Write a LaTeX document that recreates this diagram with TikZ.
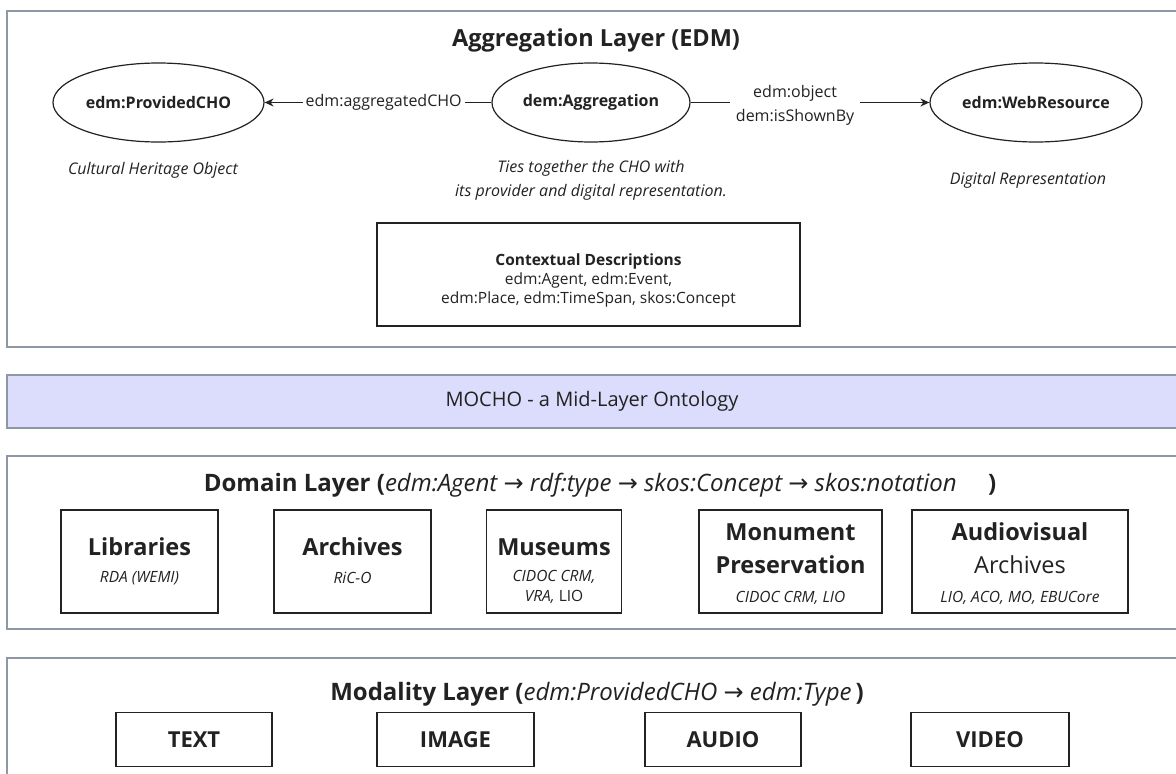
\documentclass[tikz,border=0pt]{standalone}
\usepackage{fontspec}
\setmainfont{Open Sans}
\newfontfamily\arrowfont{DejaVu Sans}
\usetikzlibrary{shapes.geometric,arrows.meta}
\definecolor{framecol}{HTML}{8E98A4}
\definecolor{lav}{HTML}{DCDCFC}
\definecolor{ink}{HTML}{222222}
\newcommand{\fs}[2]{\fontsize{#1}{#2}\selectfont}
\newcommand{\ar}{{\arrowfont\char"2192}}
\tikzset{
  frame/.style={draw=framecol, line width=1.6pt},
  ell/.style={ellipse, draw=ink, line width=1.2pt, font=\fs{16}{19}\bfseries, text=ink, inner sep=0pt, minimum height=79pt},
  elab/.style={fill=white, font=\fs{16}{24}, text=ink, align=center, inner sep=3pt},
  desc/.style={font=\fs{16}{24}\itshape, text=ink, align=center},
  ttl/.style={font=\fs{24}{28}, text=ink},
  box/.style={draw=ink, line width=1.2pt, inner sep=0pt},
  head/.style={font=\fs{23.5}{28}\bfseries, text=ink},
  headr/.style={font=\fs{23.5}{28}, text=ink},
  sub/.style={font=\fs{15.5}{18}\itshape, text=ink},
  modlab/.style={font=\fs{22}{26}\bfseries, text=ink},
  conn/.style={draw=ink, line width=1.2pt},
  tip/.style={-{Stealth[length=9pt,width=8pt]}}
}
\begin{document}
\begin{tikzpicture}[x=1pt,y=-1pt]
\useasboundingbox (0,0) rectangle (1176,774);
\fill[white] (0,0) rectangle (1176,774);
\begin{scope}
\clip (0,0) rectangle (1176,774);
% layer frames
\draw[frame] (7,11) rectangle (1190,347);
\draw[frame, fill=lav] (7,375) rectangle (1190,428);
\draw[frame] (7,456) rectangle (1190,629);
\draw[frame] (7,658) rectangle (1190,800);
\end{scope}

% Aggregation layer
\node[ttl, font=\fs{23.5}{28}\bfseries] (aggtitle) at (596,40) {Aggregation Layer (EDM)};
\node[ell, minimum width=211pt] (cho) at (158.5,102.5) {edm:ProvidedCHO};
\node[ell, minimum width=198pt] (agg) at (591,102.5) {dem:Aggregation};
\node[ell, minimum width=212pt] (web) at (1036,102.5) {edm:WebResource};
\draw[conn, tip] (agg.west) -- node[elab, pos=0.475] (lab1) {edm:aggregatedCHO} (cho.east);
\draw[conn, tip] (agg.east) -- node[elab, pos=0.4375, inner sep=6pt, yshift=-2.5pt] (lab2) {edm:object\\dem:isShownBy} (web.west);

\node[desc] (chodesc) at (153,170) {Cultural Heritage Object};
\node[desc] (aggdesc) at (591,180) {Ties together the CHO with\\its provider and digital representation.};
\node[desc] (webdesc) at (1028,180) {Digital Representation};

\node[box, minimum width=423pt, minimum height=103pt] (ctx) at (588.5,274.5) {};
\node[align=center, text=ink, font=\fs{15.5}{19}] (ctxtext) at (588.5,280)
  {\textbf{Contextual Descriptions}\\edm:Agent, edm:Event,\\edm:Place, edm:TimeSpan, skos:Concept};

% MOCHO
\node[ttl, font=\fs{20}{24}] (mocho) at (592,401.5) {MOCHO - a Mid-Layer Ontology};

% Domain layer
\node[ttl] (domtitle) at (600,485) {\textbf{Domain Layer (}\textit{edm:Agent \ar{} rdf:type \ar{} skos:Concept \ar{} skos:notation}\hspace{1.3em}\textbf{)}};
\node[box, minimum width=157pt, minimum height=103pt] (lib) at (139.5,561.5) {};
\node[head] (libh) at (139.5,547) {Libraries};
\node[sub] (libs) at (139.5,578) {RDA (WEMI)};
\node[box, minimum width=157pt, minimum height=103pt] (arc) at (352.5,561.5) {};
\node[head] (arch) at (352.5,547) {Archives};
\node[sub] (arcs) at (352.5,578) {RiC-O};
\node[box, minimum width=135pt, minimum height=103pt] (mus) at (554,561.5) {};
\node[head] (mush) at (554,547) {Museums};
\node[sub] (mus1) at (554,577) {CIDOC CRM,};
\node[sub] (mus2) at (554,597) {VRA, \upshape LIO};
\node[box, minimum width=183pt, minimum height=103pt] (mon) at (790.5,561.5) {};
\node[head] (monh1) at (790.5,532) {Monument};
\node[head] (monh2) at (790.5,565) {Preservation};
\node[sub] (mons) at (790.5,598) {CIDOC CRM, LIO};
\node[box, minimum width=216pt, minimum height=103pt] (av) at (1020,561.5) {};
\node[head] (avh1) at (1020,532) {Audiovisual};
\node[headr] (avh2) at (1020,565) {Archives};
\node[sub] (avs) at (1020,598) {LIO, ACO, MO, EBUCore};

% Modality layer
\node[ttl] (modtitle) at (597,694) {\textbf{Modality Layer (}\textit{edm:ProvidedCHO \ar{} edm:Type}\,\textbf{)}};
\node[box, minimum width=156pt, minimum height=54pt] (txt) at (194,739.5) {};
\node[modlab] (txtl) at (194,739.5) {TEXT};
\node[box, minimum width=157pt, minimum height=54pt] (img) at (455.5,739.5) {};
\node[modlab] (imgl) at (455.5,739.5) {IMAGE};
\node[box, minimum width=156pt, minimum height=54pt] (aud) at (723,739.5) {};
\node[modlab] (audl) at (723,739.5) {AUDIO};
\node[box, minimum width=158pt, minimum height=54pt] (vid) at (990,739.5) {};
\node[modlab] (vidl) at (990,739.5) {VIDEO};
\end{tikzpicture}
\end{document}
